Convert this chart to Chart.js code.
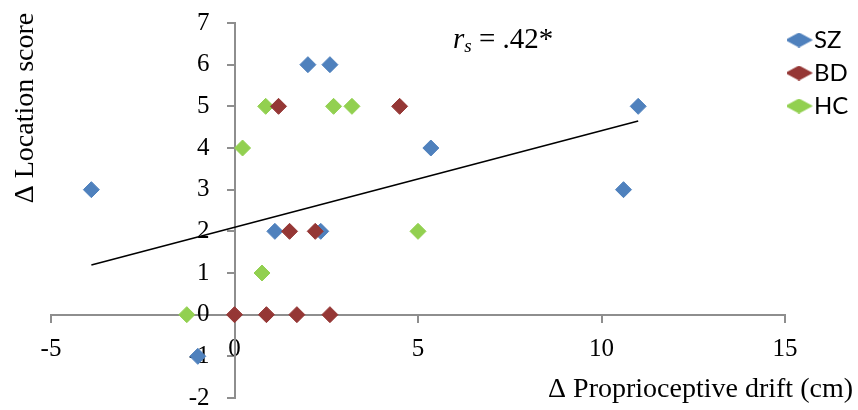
<!DOCTYPE html>
<html>
<head>
<meta charset="utf-8">
<script src="https://cdn.jsdelivr.net/npm/chart.js@4.4.1/dist/chart.umd.min.js"></script>
<style>
  html, body { margin: 0; padding: 0; background: #fff; }
</style>
</head>
<body>
<canvas id="myChart" width="858" height="410"></canvas>
<script>
// values
let group_names = ['SZ', 'BD', 'HC'];
let sz_x = [-3.9, -1.0, 2.0, 2.6, 5.35, 11.0, 10.6, 1.1, 2.35];
let sz_y = [3, -1, 6, 6, 4, 5, 3, 2, 2];
let bd_x = [1.2, 4.5, 1.5, 2.2, 0, 0.87, 1.7, 2.6];
let bd_y = [5, 5, 2, 2, 0, 0, 0, 0];
let hc_x = [-1.3, 0.75, 0.22, 0.85, 2.7, 3.2, 5.0];
let hc_y = [0, 1, 4, 5, 5, 5, 2];
let trend_x = [-3.9, 11.0];
let trend_y = [1.19, 4.65];
let x_ticks = [-5, 0, 5, 10, 15];
let y_ticks = [-2, -1, 0, 1, 2, 3, 4, 5, 6, 7];

let x_title = '\u0394 Proprioceptive drift (cm)';
let y_title = '\u0394 Location score';
let stat_value = ' = .42*';

const colors = ['#4f81bd', '#953735', '#92d050'];
const axisGray = '#8e8e8e';
const serif = '"Liberation Serif", "Times New Roman", serif';

function toPoints(xs, ys) {
    return xs.map((x, i) => ({x: x, y: ys[i]}));
}

// flat diamond like the excel legend
function legendDiamond(color) {
    const c = document.createElement('canvas');
    c.width = 28;
    c.height = 15;
    const g = c.getContext('2d');
    g.fillStyle = color;
    g.beginPath();
    g.moveTo(0, 7.5);
    g.lineTo(14, 0);
    g.lineTo(28, 7.5);
    g.lineTo(14, 15);
    g.closePath();
    g.fill();
    return c;
}
const legendIcons = colors.map(legendDiamond);

function groupDataset(i, xs, ys, order) {
    return {
        label: group_names[i],
        data: toPoints(xs, ys),
        backgroundColor: colors[i],
        borderColor: colors[i],
        pointStyle: 'rectRot',
        pointRadius: 8,
        pointBorderWidth: 1,
        order: order
    };
}

let chart_data = {
    datasets: [
        groupDataset(0, sz_x, sz_y, 4),
        groupDataset(1, bd_x, bd_y, 2),
        groupDataset(2, hc_x, hc_y, 3),
        {
            label: 'trend',
            data: toPoints(trend_x, trend_y),
            showLine: true,
            pointRadius: 0,
            borderColor: '#000',
            borderWidth: 1.6,
            order: 1
        }
    ]
};

// puts the legend at the top right, outside the plot
const legendSpot = {
    id: 'legendSpot',
    afterLayout(chart) {
        const lg = chart.legend;
        const h = lg.bottom - lg.top;
        lg.left = 787;
        lg.top = 19;
        lg.right = lg.left + lg.width;
        lg.bottom = lg.top + h;
    }
};

// axis titles and the r_s note
const extraText = {
    id: 'extraText',
    afterDraw(chart) {
        const ctx = chart.ctx;
        ctx.save();
        ctx.fillStyle = '#000';
        ctx.textBaseline = 'alphabetic';

        ctx.font = '28px ' + serif;
        ctx.textAlign = 'right';
        ctx.fillText(x_title, 853, 397);

        ctx.save();
        ctx.translate(33, 108);
        ctx.rotate(-Math.PI / 2);
        ctx.textAlign = 'center';
        ctx.fillText(y_title, 0, 0);
        ctx.restore();

        ctx.textAlign = 'left';
        let x = 453;
        ctx.font = 'italic 29px ' + serif;
        ctx.fillText('r', x, 48);
        x += ctx.measureText('r').width;
        ctx.font = 'italic 19px ' + serif;
        ctx.fillText('s', x, 52);
        x += ctx.measureText('s').width;
        ctx.font = '29px ' + serif;
        ctx.fillText(stat_value, x, 48);
        ctx.restore();
    }
};

let config = {
    type: 'scatter',
    data: chart_data,
    options: {
        responsive: false,
        animation: false,
        events: [],
        layout: {
            padding: {left: 51, top: 23, bottom: 12, right: 73}
        },
        scales: {
            x: {
                type: 'linear',
                position: {y: 0},
                min: x_ticks[0],
                max: x_ticks[x_ticks.length - 1],
                ticks: {
                    stepSize: x_ticks[1] - x_ticks[0],
                    color: '#000',
                    padding: 13,
                    font: {family: serif, size: 25}
                },
                grid: {drawOnChartArea: false, tickLength: 7, color: axisGray, lineWidth: 2},
                border: {color: axisGray, width: 2},
                afterFit(scale) {
                    scale.height = 0;
                    scale.paddingLeft = 0;
                    scale.paddingRight = 0;
                }
            },
            y: {
                type: 'linear',
                position: {x: 0},
                min: y_ticks[0],
                max: y_ticks[y_ticks.length - 1],
                ticks: {
                    stepSize: y_ticks[1] - y_ticks[0],
                    color: '#000',
                    font: {family: serif, size: 25},
                    // labels of a crossing axis sit on the line, keep them clear of it
                    callback: v => v + '\u2007\u2007'
                },
                grid: {drawOnChartArea: false, tickLength: 7, color: axisGray, lineWidth: 2},
                border: {color: axisGray, width: 2},
                afterFit(scale) {
                    scale.width = 0;
                    scale.paddingTop = 0;
                    scale.paddingBottom = 0;
                }
            }
        },
        plugins: {
            tooltip: {enabled: false},
            legend: {
                position: 'chartArea',
                align: 'start',
                labels: {
                    usePointStyle: true,
                    pointStyleWidth: 6,
                    padding: 9,
                    color: '#000',
                    font: {family: 'Lato, "Liberation Sans", sans-serif', size: 24},
                    generateLabels(chart) {
                        const items = Chart.defaults.plugins.legend.labels.generateLabels(chart);
                        return items
                            .filter(it => it.datasetIndex < 3)
                            .sort((a, b) => a.datasetIndex - b.datasetIndex)
                            .map(it => Object.assign(it, {pointStyle: legendIcons[it.datasetIndex]}));
                    }
                }
            }
        }
    },
    plugins: [legendSpot, extraText]
};

let myChart = new Chart(document.getElementById('myChart'), config);
</script>
</body>
</html>
